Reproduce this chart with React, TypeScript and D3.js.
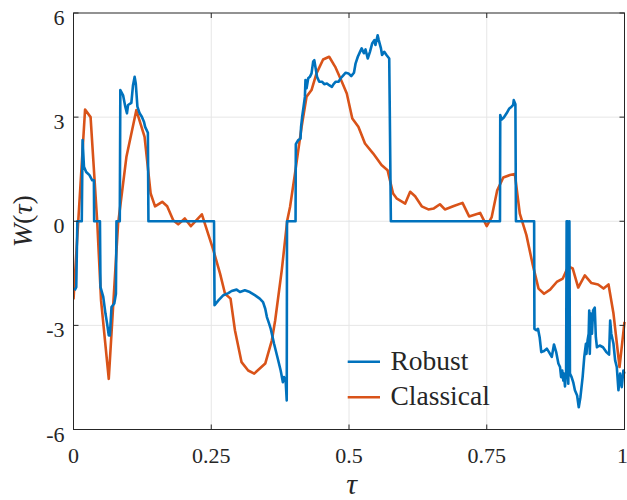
import React from "react";
import * as d3 from "d3";

const robustTau = [
  0.002, 0.005, 0.007, 0.015, 0.0165, 0.019, 0.023, 0.029, 0.034, 0.037, 0.0375, 0.048, 0.049, 0.054, 0.058, 0.061, 0.064, 0.066, 0.069, 0.074, 0.077, 0.078, 0.084, 0.085, 0.09, 0.094, 0.097, 0.099, 0.105, 0.108, 0.111, 0.113, 0.116, 0.12, 0.124, 0.128, 0.13, 0.135, 0.136,
  0.255, 0.256, 0.263, 0.272, 0.281, 0.287, 0.296, 0.302, 0.311, 0.32, 0.329, 0.338, 0.344, 0.348, 0.351, 0.355, 0.358, 0.364, 0.37, 0.376, 0.38, 0.382, 0.385, 0.387, 0.3875,
  0.403, 0.4035, 0.408, 0.412, 0.413, 0.415, 0.418, 0.42, 0.421, 0.423, 0.426, 0.429, 0.432, 0.435, 0.437, 0.44, 0.442, 0.446, 0.451, 0.455, 0.46, 0.464, 0.469, 0.472, 0.476, 0.481, 0.485, 0.49, 0.494, 0.499, 0.504, 0.509, 0.512, 0.516, 0.52, 0.523, 0.527, 0.53, 0.534, 0.538, 0.542, 0.546, 0.548, 0.552, 0.554, 0.558, 0.56, 0.564, 0.568, 0.573, 0.574, 0.576,
  0.774, 0.7745, 0.777, 0.781, 0.786, 0.791, 0.795, 0.798, 0.799, 0.802, 0.803,
  0.836, 0.8365, 0.84, 0.843, 0.846, 0.849, 0.854, 0.859, 0.863, 0.868, 0.872, 0.876, 0.88, 0.883, 0.885, 0.887, 0.889, 0.89, 0.892, 0.894, 0.895, 0.897, 0.898, 0.9, 0.901, 0.904, 0.907, 0.91, 0.914, 0.917, 0.92, 0.924, 0.927, 0.93, 0.931, 0.933, 0.935, 0.936, 0.937, 0.939, 0.941, 0.943, 0.946, 0.948, 0.95, 0.955, 0.961, 0.967, 0.972, 0.974, 0.976, 0.98, 0.983, 0.986, 0.989, 0.992, 0.995, 0.998, 1.0,
];
const robustW = [
  -1.99, -1.9, 0, 0, 2.34, 1.57, 1.42, 1.33, 1.18, 1.18, 0, 0, -1.9, -2.18, -2.66, -2.95, -3.29, -3.29, -2.47, -2.37, -2.09, 0, 0, 3.78, 3.63, 3.3, 3.11, 3.35, 3.41, 3.92, 4.16, 3.97, 3.3, 3.11, 3.01, 2.86, 2.72, 2.55, 0,
  0, -2.42, -2.28, -2.13, -2.07, -2.01, -1.97, -2.04, -1.99, -2.04, -2.13, -2.23, -2.33, -2.52, -2.76, -2.95, -3.1, -3.53, -3.91, -4.3, -4.64, -4.49, -4.59, -5.16, 0,
  0, 2.22, 2.34, 2.38, 2.72, 3.01, 3.35, 3.59, 4.07, 3.83, 4.12, 4.16, 4.26, 4.6, 4.64, 4.36, 4.16, 4.02, 4.02, 3.95, 3.97, 3.92, 3.87, 3.95, 4.02, 4.02, 4.12, 4.21, 4.28, 4.26, 4.18, 4.28, 4.55, 4.74, 4.88, 4.98, 4.84, 4.95, 4.69, 4.88, 5.12, 5.22, 5.08, 5.36, 5.22, 4.98, 4.79, 4.88, 4.79, 4.69, 3.2, 0,
  0, 3.06, 2.93, 2.99, 3.11, 3.25, 3.3, 3.35, 3.49, 3.37, 0,
  0, -3.1, -3.14, -3.1, -3.34, -3.77, -3.74, -3.67, -3.77, -3.91, -3.55, -3.77, -4.1, -4.2, -4.49, -4.3, -4.59, -4.39, -4.76, -4.39, 0, 0, -4.68, 0, -4.39, -4.49, -4.64, -4.87, -5.02, -5.36, -5.07, -4.49, -3.91, -3.53, -3.82, -3.43, -3.24, -2.57, -3.82, -2.66, -3.24, -2.57, -2.49, -3.34, -3.63, -3.58, -3.63, -3.77, -3.84, -2.86, -3.24, -3.53, -4.01, -4.2, -4.87, -4.39, -4.78, -4.3, -4.39,
];

const classicalTau = [
  0.0, 0.021, 0.031, 0.043, 0.05, 0.064, 0.081, 0.096, 0.114, 0.129, 0.14, 0.148, 0.161, 0.17, 0.181, 0.19, 0.202, 0.213, 0.233, 0.254, 0.266, 0.275, 0.285, 0.293, 0.305, 0.317, 0.328, 0.348, 0.36, 0.366, 0.378, 0.388, 0.393, 0.402, 0.414, 0.423, 0.432, 0.441, 0.453, 0.464, 0.475, 0.487, 0.496, 0.506, 0.517, 0.529, 0.544, 0.559, 0.57, 0.58, 0.587, 0.602, 0.611, 0.62, 0.632, 0.644, 0.654, 0.665, 0.674, 0.689, 0.706, 0.718, 0.738, 0.75, 0.759, 0.769, 0.78, 0.792, 0.801, 0.81, 0.822, 0.833, 0.844, 0.854, 0.865, 0.877, 0.888, 0.898, 0.906, 0.916, 0.928, 0.94, 0.952, 0.962, 0.971, 0.98, 0.991, 1.0,
];
const classicalW = [
  -2.25, 3.22, 3.0, 0.0, -2.28, -4.54, -0.06, 1.85, 3.2, 2.43, 0.8, 0.43, 0.56, 0.43, 0.03, -0.09, 0.08, -0.14, 0.2, -0.84, -1.51, -2.09, -2.23, -3.14, -4.06, -4.3, -4.39, -4.1, -3.43, -2.86, -1.41, 0.03, 0.41, 1.38, 2.72, 3.59, 3.78, 4.26, 4.66, 4.74, 4.45, 4.02, 3.68, 2.96, 2.72, 2.24, 1.95, 1.62, 1.47, 0.8, 0.65, 0.51, 0.85, 0.72, 0.43, 0.34, 0.37, 0.49, 0.34, 0.43, 0.53, 0.14, 0.24, -0.14, 0.12, 0.89, 1.26, 1.33, 1.36, 0.22, -0.4, -1.22, -1.94, -2.09, -1.97, -1.75, -1.65, -1.3, -1.36, -1.91, -1.56, -1.78, -1.82, -1.94, -1.82, -2.66, -4.2, -2.9,
];

const xTicks = [0, 0.25, 0.5, 0.75, 1];
const xTickLabels = ["0", "0.25", "0.5", "0.75", "1"];
const yTicks = [-6, -3, 0, 3, 6];
const yTickLabels = ["-6", "-3", "0", "3", "6"];
const seriesNames = ["Robust", "Classical"];
const seriesColors = ["#0072BD", "#D95319"];

const W = 627;
const H = 500;
const left = 73.5, right = 624.5, top = 13, bottom = 429.5;
const FONT = "'Liberation Serif', 'Times New Roman', serif";
const AX = "#262626";

export default function App() {
  const x = d3.scaleLinear().domain([0, 1]).range([left, right]);
  const y = d3.scaleLinear().domain([-6, 6]).range([bottom, top]);
  const line = d3
    .line<[number, number]>()
    .x((d) => x(d[0]))
    .y((d) => y(d[1]));
  const robust = robustTau.map((t, i) => [t, robustW[i]] as [number, number]);
  const classical = classicalTau.map((t, i) => [t, classicalW[i]] as [number, number]);
  const tl = 5;

  return (
    <svg
      width={W}
      height={H}
      style={{ position: "absolute", left: 0, top: 0, display: "block", background: "#fff" }}
    >
      <rect x={0} y={0} width={W} height={H} fill="#fff" />
      {xTicks.slice(1, -1).map((t) => (
        <line key={"gx" + t} x1={x(t)} x2={x(t)} y1={top} y2={bottom} stroke="#e6e6e6" strokeWidth={1} />
      ))}
      {yTicks.slice(1, -1).map((t) => (
        <line key={"gy" + t} x1={left} x2={right} y1={y(t)} y2={y(t)} stroke="#e6e6e6" strokeWidth={1} />
      ))}
      <defs>
        <clipPath id="plotclip">
          <rect x={left} y={top - 2} width={right - left + 2} height={bottom - top + 4} />
        </clipPath>
      </defs>
      <g clipPath="url(#plotclip)">
        <path d={line(classical) || ""} fill="none" stroke={seriesColors[1]} strokeWidth={2.6} strokeLinejoin="round" />
        <path d={line(robust) || ""} fill="none" stroke={seriesColors[0]} strokeWidth={2.6} strokeLinejoin="round" />
      </g>
      <rect x={left} y={top} width={right - left} height={bottom - top} fill="none" stroke={AX} strokeWidth={1} />
      {xTicks.map((t) => (
        <g key={"tx" + t}>
          <line x1={x(t)} x2={x(t)} y1={bottom} y2={bottom - tl} stroke={AX} />
          <line x1={x(t)} x2={x(t)} y1={top} y2={top + tl} stroke={AX} />
        </g>
      ))}
      {yTicks.map((t) => (
        <g key={"ty" + t}>
          <line x1={left} x2={left + tl} y1={y(t)} y2={y(t)} stroke={AX} />
          <line x1={right} x2={right - tl} y1={y(t)} y2={y(t)} stroke={AX} />
        </g>
      ))}
      {xTicks.map((t, i) => (
        <text
          key={"lx" + t}
          x={i === xTicks.length - 1 ? x(t) - 2 : x(t)}
          y={463}
          textAnchor="middle"
          fontFamily={FONT}
          fontSize={22}
          fill={AX}
        >
          {xTickLabels[i]}
        </text>
      ))}
      {yTicks.map((t, i) => (
        <text key={"ly" + t} x={64.5} y={y(t) + 12} textAnchor="end" fontFamily={FONT} fontSize={22} fill={AX}>
          {yTickLabels[i]}
        </text>
      ))}
      <text x={351.5} y={494} textAnchor="middle" fontFamily={FONT} fontSize={30} fontStyle="italic" fill={AX}>
        τ
      </text>
      <text
        transform={`translate(32, ${(top + bottom) / 2}) rotate(-90)`}
        textAnchor="middle"
        fontFamily={FONT}
        fontSize={28}
        fill={AX}
      >
        <tspan fontStyle="italic">W</tspan>
        <tspan>(</tspan>
        <tspan fontStyle="italic">τ</tspan>
        <tspan>)</tspan>
      </text>
      {seriesNames.map((n, i) => {
        const ly = i === 0 ? 361.7 : 397.3;
        return (
          <g key={n}>
            <line x1={347.7} x2={380} y1={ly} y2={ly} stroke={seriesColors[i]} strokeWidth={2.6} />
            <text x={390.5} y={ly + 8} fontFamily={FONT} fontSize={27.5} fill={AX}>
              {n}
            </text>
          </g>
        );
      })}
    </svg>
  );
}
